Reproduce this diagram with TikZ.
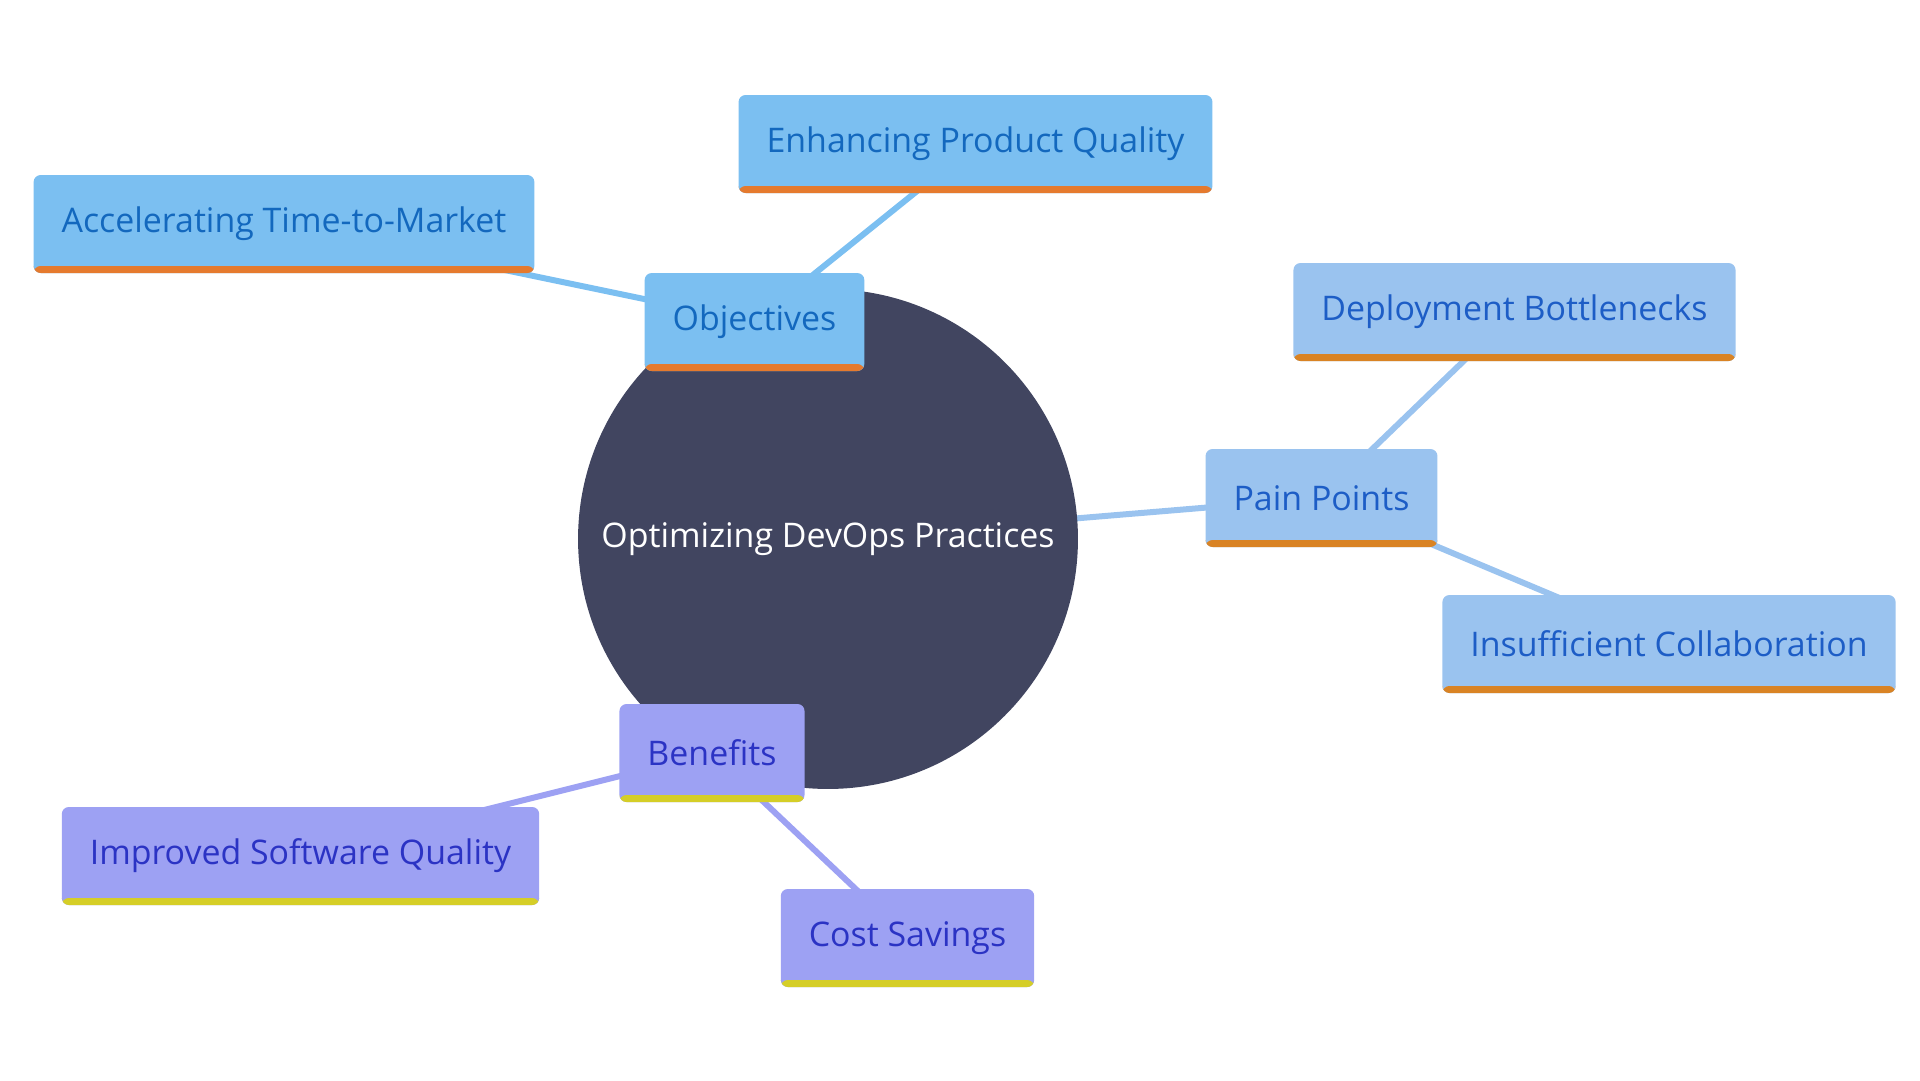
\documentclass[tikz,border=0pt]{standalone}
\usepackage{fontspec}
\setmainfont{Open Sans}
\usetikzlibrary{backgrounds}
\definecolor{hubfill}{HTML}{414560}
\definecolor{objfill}{HTML}{7BBFF1}
\definecolor{objtext}{HTML}{1368BE}
\definecolor{objbar}{HTML}{E57A2E}
\definecolor{painfill}{HTML}{9AC3EF}
\definecolor{paintext}{HTML}{1D5DC6}
\definecolor{painbar}{HTML}{D98324}
\definecolor{benfill}{HTML}{9DA1F3}
\definecolor{bentext}{HTML}{2B33C4}
\definecolor{benbar}{HTML}{D5CE27}
\begin{document}
\begin{tikzpicture}[x=0.02cm,y=-0.02cm,
  topic/.style={rounded corners=0.14cm,inner xsep=0.56cm,minimum height=1.96cm,
    font=\fontsize{19.3}{23}\selectfont},
  objbox/.style={topic,fill=objfill,text=objtext,
    path picture={\fill[objbar] (path picture bounding box.south west) rectangle ([yshift=0.14cm]path picture bounding box.south east);}},
  painbox/.style={topic,fill=painfill,text=paintext,
    path picture={\fill[painbar] (path picture bounding box.south west) rectangle ([yshift=0.14cm]path picture bounding box.south east);}},
  benbox/.style={topic,fill=benfill,text=bentext,
    path picture={\fill[benbar] (path picture bounding box.south west) rectangle ([yshift=0.14cm]path picture bounding box.south east);}},
  link/.style={line width=0.12cm}]
\useasboundingbox (0,0) rectangle (1920,1080);
\node[circle,fill=hubfill,minimum size=10cm,text=white,font=\fontsize{19.3}{23}\selectfont] (hub) at (828,539) {Optimizing DevOps Practices};
\node[objbox] (obj) at (754.5,322) {Objectives};
\node[objbox] (quality) at (975.5,144) {Enhancing Product Quality};
\node[objbox] (ttm) at (284,224) {Accelerating Time-to-Market};
\node[painbox] (pain) at (1321.5,498) {Pain Points};
\node[painbox] (deploy) at (1514.5,312) {Deployment Bottlenecks};
\node[painbox] (collab) at (1669,644) {Insufficient Collaboration};
\node[benbox] (ben) at (712,753) {Benefits};
\node[benbox] (software) at (300.5,856) {Improved Software Quality};
\node[benbox] (cost) at (907.5,938) {Cost Savings};
\begin{scope}[on background layer]
\draw[link,objfill] (obj.center) -- (quality.center);
\draw[link,objfill] (obj.center) -- (ttm.center);
\draw[link,painfill] (hub.center) -- (pain.center);
\draw[link,painfill] (pain.center) -- (deploy.center);
\draw[link,painfill] (pain.center) -- (collab.center);
\draw[link,benfill] (ben.center) -- (software.center);
\draw[link,benfill] (ben.center) -- (cost.center);
\end{scope}
\end{tikzpicture}
\end{document}
